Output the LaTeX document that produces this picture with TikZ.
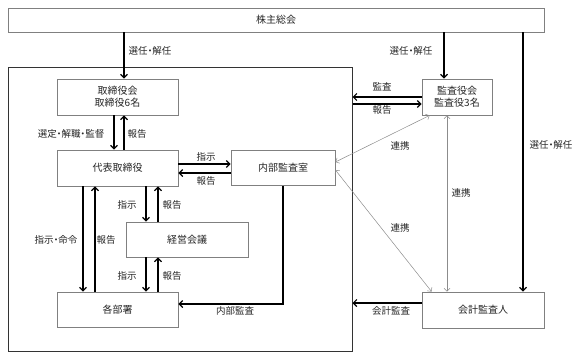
\documentclass[tikz,border=0pt]{standalone}
\usepackage{fontspec}
\setmainfont{Noto Sans CJK JP}[RawFeature=+palt]
\usetikzlibrary{arrows.meta}
\definecolor{boxgray}{HTML}{808080}
\definecolor{linkgray}{HTML}{8C8C8C}
\definecolor{txt}{HTML}{262626}
\definecolor{framecol}{HTML}{333333}
\begin{document}
\begin{tikzpicture}[x=1pt,y=-1pt,
 box/.style={draw=boxgray,line width=0.8pt,fill=white,inner sep=0pt,font=\fontsize{10}{12}\selectfont,text=txt,align=center},
 lbl/.style={font=\fontsize{9.5}{11}\selectfont,text=txt,inner sep=0pt},
 arr/.style={line width=1.2pt,-{Straight Barb[length=3.5pt,width=7pt]}},
 link/.style={draw=linkgray,line width=0.5pt,{Straight Barb[length=3pt,width=6pt]}-{Straight Barb[length=3pt,width=6pt]}},
 ]
\useasboundingbox (0,0) rectangle (585,359);
% frame
\node[draw=framecol,line width=1pt,minimum width=344pt,minimum height=284pt,inner sep=0pt] (frame) at (180,209) {};
% boxes
\node[box,minimum width=536pt,minimum height=24pt] (kabu) at (276,20) {株主総会};
\node[box,minimum width=121pt,minimum height=36pt] (tori) at (117.5,97) {取締役会\\取締役6名};
\node[box,minimum width=121pt,minimum height=36pt] (daihyo) at (117.5,168) {代表取締役};
\node[box,minimum width=104pt,minimum height=35pt] (naibu) at (283,168) {内部監査室};
\node[box,minimum width=122pt,minimum height=35pt] (keiei) at (187,239.5) {経営会議};
\node[box,minimum width=121pt,minimum height=35pt] (kakubu) at (117.5,309.5) {各部署};
\node[box,minimum width=70pt,minimum height=36pt] (kansa) at (457,97) {監査役会\\監査役3名};
\node[box,minimum width=122pt,minimum height=36pt] (kaikei) at (483,310) {会計監査人};
% helper coordinates
\coordinate (xa) at (124,0);
\coordinate (xb) at (114,0);
\coordinate (xd) at (83,0);
\coordinate (xe) at (95,0);
\coordinate (xf) at (146,0);
\coordinate (xg) at (158,0);
\coordinate (xh) at (444,0);
\coordinate (xi) at (523,0);
\coordinate (xj) at (447,0);
\coordinate (ya) at (0,164);
\coordinate (yb) at (0,173);
\coordinate (yc) at (0,97);
\coordinate (yd) at (0,104);
\coordinate (ye) at (0,303);
\coordinate (yf) at (0,304);
% connectors
\draw[arr] (kabu.south -| xa) -- (tori.north -| xa);
\draw[arr] (tori.south -| xb) -- (daihyo.north -| xb);
\draw[arr] (daihyo.north -| xa) -- (tori.south -| xa);
\draw[arr] (daihyo.east |- ya) -- (naibu.west |- ya);
\draw[arr] (naibu.west |- yb) -- (daihyo.east |- yb);
\draw[arr] (daihyo.south -| xf) -- (keiei.north -| xf);
\draw[arr] (keiei.north -| xg) -- (daihyo.south -| xg);
\draw[arr] (keiei.south -| xf) -- (kakubu.north -| xf);
\draw[arr] (kakubu.north -| xg) -- (keiei.south -| xg);
\draw[arr] (daihyo.south -| xd) -- (kakubu.north -| xd);
\draw[arr] (kakubu.north -| xe) -- (daihyo.south -| xe);
\draw[arr] (naibu.south) |- (kakubu.east |- yf);
\draw[arr] (kabu.south -| xh) -- (kansa.north -| xh);
\draw[arr] (kansa.west |- yc) -- (frame.east |- yc);
\draw[arr] (frame.east |- yd) -- (kansa.west |- yd);
\draw[arr] (kabu.south -| xi) -- (kaikei.north -| xi);
\draw[arr] (kaikei.west |- ye) -- (frame.east |- ye);
\draw[link] (kansa.south -| xj) -- (kaikei.north -| xj);
\draw[link] ([xshift=8pt]kansa.south west) -- ([yshift=6pt]naibu.east);
\draw[link] ([yshift=-2pt]naibu.east) -- ([xshift=10pt]kaikei.north west);
% labels
\node[lbl] (l1) at (150,51) {選任・解任};
\node[lbl] (l2) at (411,51) {選任・解任};
\node[lbl] (l3) at (551,145) {選任・解任};
\node[lbl] (l4) at (71,134) {選定・解職・監督};
\node[lbl] (l5) at (137,134) {報告};
\node[lbl] (l6) at (206,157) {指示};
\node[lbl] (l7) at (206,181) {報告};
\node[lbl] (l8) at (127,205) {指示};
\node[lbl] (l9) at (172,205) {報告};
\node[lbl] (l10) at (56,240) {指示・命令};
\node[lbl] (l11) at (106,240) {報告};
\node[lbl] (l12) at (127,276) {指示};
\node[lbl] (l13) at (172,276) {報告};
\node[lbl] (l14) at (235,311) {内部監査};
\node[lbl] (l15) at (382,87) {監査};
\node[lbl] (l16) at (382,110) {報告};
\node[lbl] (l17) at (400,146) {連携};
\node[lbl] (l18) at (461,193) {連携};
\node[lbl] (l19) at (400,228) {連携};
\node[lbl] (l20) at (391,311) {会計監査};
\end{tikzpicture}
\end{document}
